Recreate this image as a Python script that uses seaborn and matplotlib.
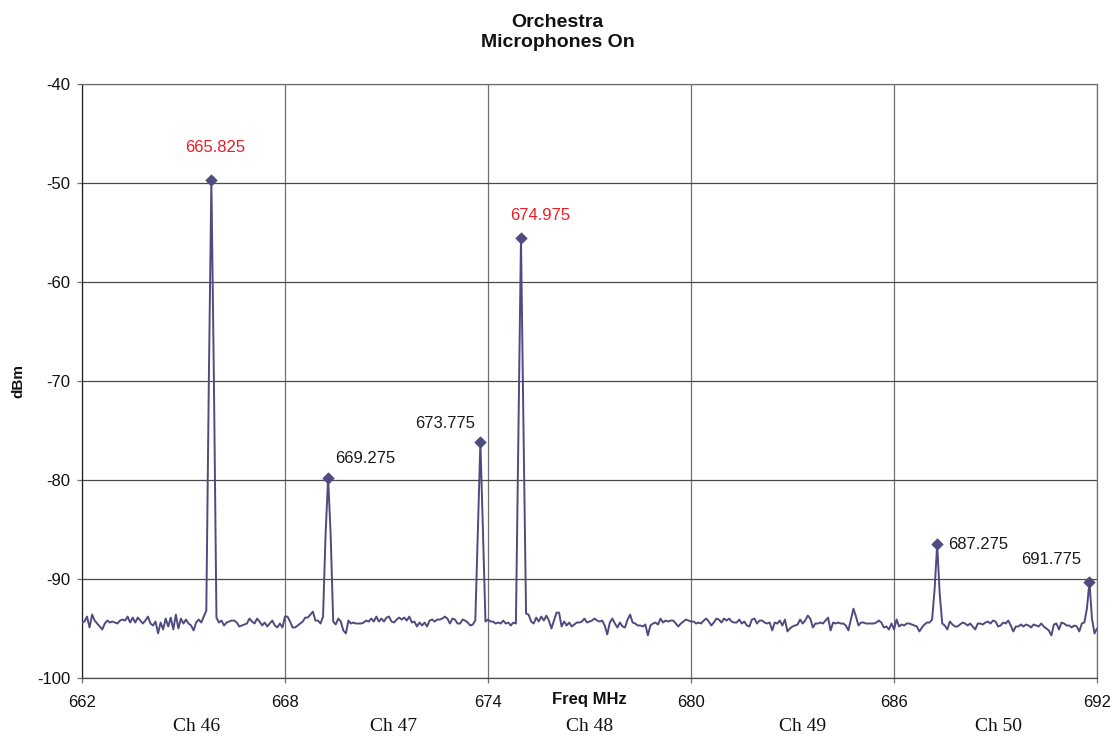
import numpy as np
import pandas as pd
import seaborn as sns
import matplotlib.pyplot as plt

# spectrum sweep 662 - 692 MHz, 401 points (0.075 MHz step), values in dBm
freq_start = 662.0
freq_stop = 692.0
dbm = [
    -94.4, -94.3, -93.8, -94.9, -93.6, -94.2, -94.5, -94.8, -95.1, -94.5,
    -94.2, -94.4, -94.3, -94.4, -94.5, -94.2, -94.1, -94.2, -93.8, -94.4,
    -93.9, -94.4, -93.9, -94.2, -94.5, -94.2, -93.8, -94.5, -94.7, -94.3,
    -95.5, -94.4, -95.1, -94.0, -94.8, -93.9, -95.1, -93.6, -95.0, -94.0,
    -94.5, -94.1, -94.5, -94.7, -95.2, -94.4, -94.1, -94.4, -93.8, -93.2,
    -70.0, -49.7, -70.0, -93.9, -94.4, -94.2, -94.7, -94.4, -94.3, -94.2,
    -94.2, -94.4, -94.8, -94.7, -94.6, -94.5, -94.0, -94.3, -94.5, -94.0,
    -94.3, -94.7, -94.4, -94.8, -94.5, -94.2, -94.7, -94.9, -94.5, -94.9,
    -93.8, -93.8, -94.3, -94.9, -94.9, -94.7, -94.5, -94.3, -93.9, -93.9,
    -93.6, -93.3, -94.2, -94.2, -94.5, -93.8, -85.5, -79.8, -85.5, -94.3,
    -94.6, -94.0, -94.3, -95.2, -95.5, -94.2, -94.5, -94.4, -94.5, -94.5,
    -94.5, -94.4, -94.2, -94.3, -94.0, -94.3, -93.8, -94.3, -94.0, -94.3,
    -93.9, -93.8, -94.3, -94.4, -94.1, -93.9, -94.1, -93.9, -94.2, -93.8,
    -94.4, -94.3, -94.8, -94.4, -94.7, -94.4, -94.8, -94.2, -94.1, -94.3,
    -94.1, -94.1, -94.0, -93.8, -94.0, -94.5, -94.0, -94.1, -94.5, -94.5,
    -94.1, -94.2, -94.4, -94.7, -94.6, -94.2, -85.0, -76.2, -85.0, -94.3,
    -94.1, -94.3, -94.3, -94.5, -94.4, -94.5, -94.2, -94.5, -94.4, -94.7,
    -94.4, -94.5, -75.0, -55.6, -75.0, -93.5, -93.6, -94.3, -94.5, -93.9,
    -94.3, -93.8, -94.2, -93.7, -94.2, -95.0, -94.2, -93.4, -93.4, -94.8,
    -94.3, -94.7, -94.4, -94.8, -94.6, -94.4, -94.4, -94.3, -94.0, -94.4,
    -94.3, -94.2, -94.0, -94.2, -94.3, -94.2, -94.7, -95.6, -94.4, -94.0,
    -94.5, -94.9, -94.4, -94.8, -94.9, -94.1, -93.6, -94.4, -94.5, -94.7,
    -94.7, -94.8, -94.6, -95.7, -94.7, -94.5, -94.4, -94.6, -94.0, -94.4,
    -94.2, -94.3, -94.2, -94.2, -94.5, -94.8, -94.5, -94.3, -94.1, -94.2,
    -94.3, -94.3, -94.5, -94.4, -94.5, -94.2, -94.0, -94.3, -94.7, -94.4,
    -94.0, -94.1, -94.4, -94.0, -94.2, -94.0, -94.3, -94.4, -94.4, -94.1,
    -94.5, -94.3, -94.7, -94.8, -94.1, -94.0, -94.5, -94.2, -94.2, -94.4,
    -94.5, -94.4, -95.2, -94.4, -94.5, -94.2, -94.7, -94.1, -95.3, -95.0,
    -94.8, -94.7, -94.6, -94.1, -94.5, -94.2, -93.7, -94.0, -94.9, -94.5,
    -94.5, -94.4, -94.5, -94.2, -93.9, -95.2, -94.4, -94.5, -94.4, -94.5,
    -94.5, -94.7, -95.2, -94.1, -93.0, -93.8, -94.7, -94.4, -94.4, -94.5,
    -94.5, -94.5, -94.5, -94.4, -94.2, -94.4, -94.9, -94.8, -95.1, -94.5,
    -95.1, -94.1, -94.8, -94.6, -94.7, -94.5, -94.5, -94.6, -94.7, -94.8,
    -95.3, -94.9, -94.6, -94.4, -94.4, -94.1, -91.0, -86.5, -91.5, -94.5,
    -94.7, -95.1, -94.3, -94.6, -94.8, -94.8, -94.6, -94.4, -94.5, -94.7,
    -94.5, -94.8, -95.1, -94.5, -94.5, -94.6, -94.4, -94.3, -94.5, -94.2,
    -94.3, -94.8, -94.7, -94.4, -94.5, -94.2, -94.7, -95.3, -94.8, -94.8,
    -94.6, -94.8, -94.6, -94.7, -94.9, -94.6, -94.7, -94.8, -94.5, -94.8,
    -95.0, -95.2, -95.7, -94.6, -94.5, -95.1, -94.4, -94.5, -94.7, -94.7,
    -94.9, -94.7, -94.8, -95.3, -94.5, -94.4, -93.0, -90.3, -94.0, -95.5,
    -95.0,
]

# marked carriers
peak_freq = [665.825, 669.275, 673.775, 674.975, 687.275, 691.775]
peak_dbm = [-49.7, -79.8, -76.2, -55.6, -86.5, -90.3]
peak_text = ['665.825', '669.275', '673.775', '674.975', '687.275', '691.775']
peak_color = ['#ED1C24', '#1a1a1a', '#1a1a1a', '#ED1C24', '#1a1a1a', '#1a1a1a']
# where each label sits relative to its marker (pixels)
label_off = [(4, 33), (37, 19), (-35, 19), (19, 23), (41, 0), (-38, 22)]

# TV channel names under the axis
ch_names = ['Ch 46', 'Ch 47', 'Ch 48', 'Ch 49', 'Ch 50']
ch_pos = [665.4, 671.2, 677.0, 683.3, 689.1]

x_ticks = [662, 668, 674, 680, 686, 692]
y_ticks = [-100, -90, -80, -70, -60, -50, -40]

freq = np.linspace(freq_start, freq_stop, len(dbm))
spec = pd.DataFrame({'freq': freq, 'dbm': dbm})
peaks = pd.DataFrame({'freq': peak_freq, 'dbm': peak_dbm})

sns.set_theme(style='white')
plt.rcParams['font.family'] = ['Liberation Sans', 'DejaVu Sans']
plt.rcParams['axes.unicode_minus'] = False

line_col = '#4E4B80'
grid_col = '#707070'

fig, ax = plt.subplots(figsize=(11.15, 7.42), dpi=100)
fig.subplots_adjust(left=0.0735, right=0.9839, top=0.8868, bottom=0.0863)

sns.lineplot(data=spec, x='freq', y='dbm', color=line_col, linewidth=1.4,
             errorbar=None, ax=ax, zorder=3)
sns.scatterplot(data=peaks, x='freq', y='dbm', marker='D', s=34,
                color=line_col, edgecolor=line_col, ax=ax, zorder=4)

for f, d, t, c, off in zip(peak_freq, peak_dbm, peak_text, peak_color, label_off):
    ax.annotate(t, (f, d), xytext=off, textcoords='offset pixels',
                ha='center', va='center', fontsize=12, color=c)

ax.set_xlim(662, 692)
ax.set_ylim(-100, -40)
ax.set_xticks(x_ticks)
ax.set_yticks(y_ticks)
# horizontal grid a bit darker than the vertical one
ax.grid(True, axis='y', color='#4a4a4a', linewidth=0.9)
ax.grid(True, axis='x', color=grid_col, linewidth=0.9)
ax.set_axisbelow(True)
for s in ax.spines.values():
    s.set_color(grid_col)
    s.set_linewidth(0.9)
ax.spines['left'].set_color('#202020')
ax.spines['bottom'].set_color('#4a4a4a')

ax.tick_params(axis='both', bottom=True, left=True, length=3.6, width=0.9,
               color=grid_col, labelsize=12, labelcolor='#111111')
ax.tick_params(axis='x', pad=8.5)
ax.tick_params(axis='y', pad=5)

ax.set_xlabel('Freq MHz', fontsize=12, fontweight='bold', color='#111111')
ax.xaxis.set_label_coords(0.5, -0.0236)
ax.set_ylabel('dBm', fontsize=11, fontweight='bold', color='#111111')
ax.yaxis.set_label_coords(-0.056, 0.5)

for name, pos in zip(ch_names, ch_pos):
    ax.text(pos, -0.0825, name, transform=ax.get_xaxis_transform(),
            ha='center', va='center', fontsize=14, family='Liberation Serif',
            color='#111111')

fig.suptitle('Orchestra\nMicrophones On', x=0.5, y=0.9562, va='center',
             fontsize=14, fontweight='bold', linespacing=1.3, color='#111111')

plt.savefig('out.png', dpi=100)
